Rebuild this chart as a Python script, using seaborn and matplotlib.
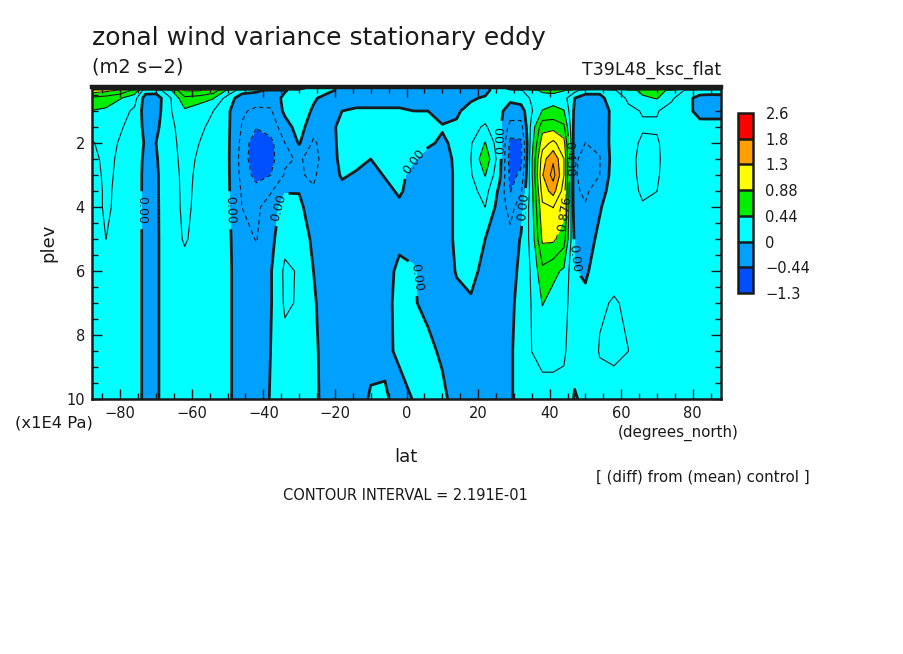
import numpy as np
import matplotlib
matplotlib.use('Agg')
import matplotlib.pyplot as plt
import seaborn as sns
from matplotlib.colors import ListedColormap, BoundaryNorm
from matplotlib.ticker import MultipleLocator
import matplotlib.cm as cm

sns.set_theme(style='white')
plt.rcParams['font.family'] = ['DejaVu Sans']
plt.rcParams['axes.axisbelow'] = False

# grid of the field (latitude in degrees, pressure in 1E4 Pa)
lat = [-87.9, -84, -80, -76, -73, -70, -66, -62, -58, -54, -50, -46, -42, -38,
       -34, -30, -26, -22, -18, -14, -10, -6, -2, 2, 6, 10, 14, 18, 22, 26,
       29, 32, 35, 38, 41, 44, 47, 50, 54, 58, 62, 66, 70, 74, 78, 82, 85, 87.9]
plev = [0.25, 0.35, 0.6, 1.0, 1.5, 2.0, 2.5, 3.0, 3.5, 4.0, 5.0, 6.0, 7.0, 8.5, 10.0]

# one vertical profile per latitude (top -> bottom)
u_var_profiles = [
    [2.4, 1.0, 0.6, 0.43, 0.3, 0.2, 0.15, 0.12, 0.1, 0.1, 0.1, 0.1, 0.1, 0.1, 0.1],          # -87.9
    [2.4, 0.95, 0.55, 0.4, 0.32, 0.3, 0.28, 0.27, 0.26, 0.26, 0.22, 0.12, 0.1, 0.1, 0.1],    # -84
    [2.4, 0.85, 0.45, 0.3, 0.24, 0.2, 0.18, 0.17, 0.16, 0.15, 0.13, 0.1, 0.1, 0.1, 0.1],     # -80
    [2.4, 0.6, 0.3, 0.18, 0.14, 0.12, 0.1, 0.1, 0.1, 0.1, 0.1, 0.1, 0.1, 0.1, 0.1],          # -76
    [2.4, 0.1, -0.1, -0.1, -0.06, -0.02, -0.04, -0.05, -0.05, -0.05, -0.05, -0.05, -0.05, -0.05, -0.05],  # -73
    [2.4, 0.1, -0.12, -0.1, -0.05, 0.0, -0.02, -0.03, -0.03, -0.03, -0.03, -0.03, -0.03, -0.03, -0.03],   # -70
    [2.4, 0.4, 0.2, 0.2, 0.18, 0.17, 0.16, 0.15, 0.14, 0.13, 0.12, 0.12, 0.12, 0.12, 0.12],  # -66
    [2.4, 0.9, 0.6, 0.4, 0.3, 0.28, 0.27, 0.26, 0.26, 0.26, 0.24, 0.15, 0.12, 0.12, 0.12],   # -62
    [2.4, 0.9, 0.55, 0.3, 0.25, 0.22, 0.2, 0.19, 0.18, 0.17, 0.15, 0.13, 0.12, 0.12, 0.12],  # -58
    [2.4, 0.8, 0.45, 0.22, 0.18, 0.15, 0.14, 0.13, 0.13, 0.12, 0.1, 0.1, 0.1, 0.1, 0.1],     # -54
    [2.4, 0.4, 0.12, 0.04, 0.04, 0.04, 0.04, 0.04, 0.04, 0.04, 0.04, 0.04, 0.04, 0.04, 0.04],  # -50
    [2.4, 0.1, -0.12, -0.2, -0.23, -0.28, -0.3, -0.28, -0.24, -0.22, -0.12, -0.1, -0.1, -0.1, -0.1],    # -46
    [2.4, 0.05, -0.15, -0.25, -0.42, -0.6, -0.62, -0.52, -0.35, -0.28, -0.23, -0.12, -0.1, -0.1, -0.1], # -42
    [2.4, -0.05, -0.12, -0.25, -0.35, -0.5, -0.52, -0.44, -0.25, -0.08, -0.06, -0.02, -0.02, 0.0, 0.01],  # -38
    [2.4, -0.02, 0.05, 0.05, -0.1, -0.22, -0.25, -0.2, -0.01, 0.06, 0.15, 0.26, 0.25, 0.15, 0.1],    # -34
    [2.4, 0.1, 0.15, 0.12, 0.1, 0.02, -0.2, -0.2, -0.01, 0.05, 0.15, 0.2, 0.2, 0.12, 0.1],           # -30
    [0.1, 0.08, 0.03, -0.03, -0.15, -0.25, -0.28, -0.25, -0.2, -0.12, -0.05, 0.0, 0.02, 0.04, 0.05], # -26
    [0.05, 0.05, -0.08, -0.1, -0.1, -0.12, -0.12, -0.1, -0.08, -0.08, -0.08, -0.08, -0.08, -0.08, -0.08],  # -22
    [-0.05, -0.05, -0.06, 0.0, 0.08, 0.08, 0.06, 0.02, -0.05, -0.08, -0.1, -0.1, -0.1, -0.1, -0.1],  # -18
    [-0.05, -0.05, -0.06, 0.02, 0.1, 0.1, 0.05, -0.02, -0.06, -0.08, -0.1, -0.1, -0.1, -0.1, -0.08], # -14
    [-0.05, -0.05, -0.06, 0.02, 0.1, 0.08, 0.0, -0.05, -0.06, -0.08, -0.1, -0.08, -0.06, -0.05, 0.02],  # -10
    [-0.05, -0.05, -0.06, 0.02, 0.1, 0.1, 0.05, 0.01, -0.04, -0.06, -0.06, -0.05, -0.05, -0.05, 0.03],  # -6
    [-0.05, -0.05, -0.06, 0.02, 0.1, 0.1, 0.07, 0.04, 0.02, -0.03, -0.03, 0.03, 0.05, 0.04, -0.08],  # -2
    [-0.05, -0.05, -0.06, 0.0, 0.08, 0.06, 0.01, -0.05, -0.06, -0.06, -0.04, 0.01, 0.01, 0.04, 0.01],  # 2
    [-0.05, -0.05, -0.06, 0.0, 0.08, 0.02, -0.05, -0.08, -0.08, -0.08, -0.08, -0.05, -0.03, 0.03, 0.05],  # 6
    [-0.05, -0.05, -0.06, -0.05, 0.01, -0.02, -0.06, -0.08, -0.08, -0.08, -0.08, -0.08, -0.06, -0.02, 0.03],  # 10
    [-0.05, -0.05, -0.06, -0.02, 0.02, 0.03, 0.03, 0.03, 0.03, 0.03, 0.03, 0.01, -0.04, -0.06, -0.05],  # 14
    [-0.05, -0.05, -0.02, 0.05, 0.15, 0.2, 0.22, 0.2, 0.15, 0.12, 0.1, 0.05, -0.02, -0.08, -0.08],   # 18
    [-0.05, -0.05, 0.02, 0.1, 0.25, 0.45, 0.6, 0.45, 0.3, 0.22, 0.0, -0.05, -0.08, -0.08, -0.08],    # 22
    [0.1, 0.1, 0.08, 0.05, 0.05, 0.08, 0.1, 0.05, -0.05, -0.1, -0.15, -0.1, -0.08, -0.06, -0.05],    # 26
    [1.5, 0.15, 0.05, -0.1, -0.3, -0.5, -0.55, -0.5, -0.45, -0.3, -0.15, -0.08, -0.05, -0.03, -0.03],  # 29
    [2.0, 0.2, 0.1, -0.1, -0.3, -0.48, -0.5, -0.4, -0.25, -0.1, 0.02, 0.05, 0.08, 0.1, 0.1],         # 32
    [2.4, 0.35, 0.25, 0.2, 0.3, 0.35, 0.4, 0.4, 0.35, 0.35, 0.3, 0.25, 0.23, 0.22, 0.15],            # 35
    [2.6, 0.5, 0.3, 0.45, 0.8, 1.0, 1.22, 1.3, 1.2, 1.05, 0.92, 0.6, 0.45, 0.25, 0.18],              # 38
    [2.6, 0.5, 0.35, 0.5, 0.8, 1.15, 1.5, 1.62, 1.4, 1.1, 0.92, 0.5, 0.35, 0.25, 0.18],              # 41
    [2.4, 0.45, 0.3, 0.45, 0.7, 0.95, 1.1, 1.1, 1.0, 0.95, 0.75, 0.4, 0.3, 0.25, 0.15],              # 44
    [2.0, 0.3, 0.0, -0.05, -0.1, -0.15, -0.2, -0.2, -0.18, -0.15, -0.05, 0.01, 0.08, 0.08, -0.02],   # 47
    [1.6, 0.1, -0.1, -0.15, -0.2, -0.22, -0.26, -0.28, -0.26, -0.2, -0.1, -0.03, 0.05, 0.1, 0.05],   # 50
    [1.6, 0.05, -0.05, -0.1, -0.15, -0.18, -0.23, -0.22, -0.1, -0.02, 0.05, 0.1, 0.2, 0.23, 0.15],   # 54
    [1.6, 0.2, 0.1, 0.05, 0.08, 0.1, 0.1, 0.12, 0.12, 0.13, 0.15, 0.18, 0.23, 0.25, 0.15],           # 58
    [2.0, 0.35, 0.25, 0.18, 0.15, 0.15, 0.15, 0.15, 0.14, 0.13, 0.13, 0.15, 0.2, 0.22, 0.12],        # 62
    [2.4, 0.5, 0.4, 0.23, 0.2, 0.25, 0.28, 0.27, 0.25, 0.2, 0.15, 0.12, 0.12, 0.1, 0.1],             # 66
    [2.4, 0.5, 0.45, 0.23, 0.2, 0.24, 0.25, 0.24, 0.22, 0.19, 0.12, 0.1, 0.1, 0.1, 0.1],             # 70
    [2.0, 0.4, 0.25, 0.15, 0.12, 0.12, 0.12, 0.12, 0.12, 0.12, 0.1, 0.1, 0.1, 0.1, 0.1],             # 74
    [1.6, 0.2, 0.1, 0.05, 0.1, 0.1, 0.1, 0.1, 0.1, 0.1, 0.1, 0.1, 0.1, 0.1, 0.1],                    # 78
    [1.6, 0.15, -0.1, -0.05, 0.05, 0.1, 0.1, 0.1, 0.1, 0.1, 0.1, 0.1, 0.1, 0.1, 0.1],                # 82
    [1.6, 0.15, -0.12, -0.05, 0.05, 0.1, 0.1, 0.1, 0.1, 0.1, 0.1, 0.1, 0.1, 0.1, 0.1],               # 85
    [1.6, 0.15, -0.12, -0.05, 0.05, 0.1, 0.1, 0.1, 0.1, 0.1, 0.1, 0.1, 0.1, 0.1, 0.1],               # 87.9
]

contour_interval = 0.2191
fill_levels = [-1.3, -0.438, 0.0, 0.438, 0.876, 1.314, 1.753, 2.6]
fill_labels = ['\u22121.3', '\u22120.44', '0', '0.44', '0.88', '1.3', '1.8', '2.6']
fill_colors = ['#0050ff', '#00a0ff', '#00ffff', '#00ee00', '#ffff00', '#ffa000', '#ff0000']

lat_ticks = [-80, -60, -40, -20, 0, 20, 40, 60, 80]
plev_ticks = [2, 4, 6, 8, 10]

zero_label_spots = [(-73.5, 4.1), (-48.8, 4.1), (-36.3, 4.0), (2.0, 2.6),
                    (0.5, 6.2), (26.5, 1.9), (32.7, 4.0), (47.5, 5.6)]
pos_label_spots = [(45.4, 2.5), (44.0, 4.2)]

Z = np.array(u_var_profiles).T

fig = plt.figure(figsize=(9.04, 6.54), dpi=100)
ax = fig.add_axes([92 / 904, 1 - 399 / 654, 629 / 904, 312 / 654])
ax.set_axisbelow(False)

cmap = ListedColormap(fill_colors)
cmap.set_under(fill_colors[0])
cmap.set_over(fill_colors[-1])
norm = BoundaryNorm(fill_levels, cmap.N)

ax.contourf(lat, plev, Z, levels=fill_levels, cmap=cmap, norm=norm, extend='both')

neg_levels = [-contour_interval * k for k in range(6, 0, -1)]
pos_levels = [contour_interval * k for k in range(1, 12) if k not in (2, 4)]
lab_levels = [contour_interval * 2, contour_interval * 4]
cs_neg = ax.contour(lat, plev, Z, levels=neg_levels, colors='k', linewidths=0.8,
                    linestyles=[(0, (4, 3))])
cs_pos = ax.contour(lat, plev, Z, levels=pos_levels, colors='k', linewidths=0.8,
                    linestyles='solid')
cs_lab = ax.contour(lat, plev, Z, levels=lab_levels, colors='k', linewidths=0.8,
                    linestyles='solid')
cs_zero = ax.contour(lat, plev, Z, levels=[0.0], colors='k', linewidths=2.0)

ax.set_xlim(-87.9, 87.9)
ax.set_ylim(10, 0.25)
ax.set_xticks(lat_ticks)
ax.set_yticks(plev_ticks)
ax.xaxis.set_minor_locator(MultipleLocator(5))
ax.yaxis.set_minor_locator(MultipleLocator(0.5))
ax.tick_params(which='both', direction='in', bottom=True, left=True, top=True,
               right=True, colors='k', labelsize=10.5, width=1.0, pad=5)
ax.tick_params(which='major', length=7)
ax.tick_params(which='minor', length=4)
for side, sp in ax.spines.items():
    sp.set_color('k')
    sp.set_linewidth(1.8)
    sp.set_zorder(5)
ax.spines['top'].set_linewidth(3.2)

ax.clabel(cs_zero, fmt='%.2f', fontsize=9, inline=True, manual=zero_label_spots)
ax.clabel(cs_lab, fmt='%.3f', fontsize=9, inline=True, manual=pos_label_spots)

# colour bar with boxed categories
cax = fig.add_axes([738 / 904, 1 - 293 / 654, 15 / 904, 180 / 654])
sm = cm.ScalarMappable(norm=norm, cmap=cmap)
cb = fig.colorbar(sm, cax=cax, ticks=fill_levels, drawedges=True, spacing='uniform')
cb.set_ticklabels(fill_labels)
cb.ax.tick_params(length=0, labelsize=10.5, pad=9, colors='k')
cb.outline.set_linewidth(1.8)
cb.outline.set_edgecolor('k')
cb.dividers.set_linewidth(1.8)
cb.dividers.set_color('k')


def put(x, y, s, **kw):
    fig.text(x / 904, 1 - y / 654, s, color='k', **kw)


put(92, 38, 'zonal wind variance stationary eddy', fontsize=18, va='center', ha='left')
put(92, 67, '(m2 s\u22122)', fontsize=14, va='center', ha='left')
put(721, 70, 'T39L48_ksc_flat', fontsize=12.5, va='center', ha='right')
put(48, 243, 'plev', fontsize=13, va='center', ha='center', rotation=90)
put(15, 423, '(x1E4 Pa)', fontsize=11.8, va='center', ha='left')
put(406, 457, 'lat', fontsize=13, va='center', ha='center')
put(618, 433, '(degrees_north)', fontsize=10.9, va='center', ha='left')
put(596, 477, '[ (diff) from (mean) control ]', fontsize=10.8, va='center', ha='left')
put(405, 496, 'CONTOUR INTERVAL = 2.191E-01', fontsize=10.5, va='center', ha='center')

fig.savefig('out.png', dpi=100)
